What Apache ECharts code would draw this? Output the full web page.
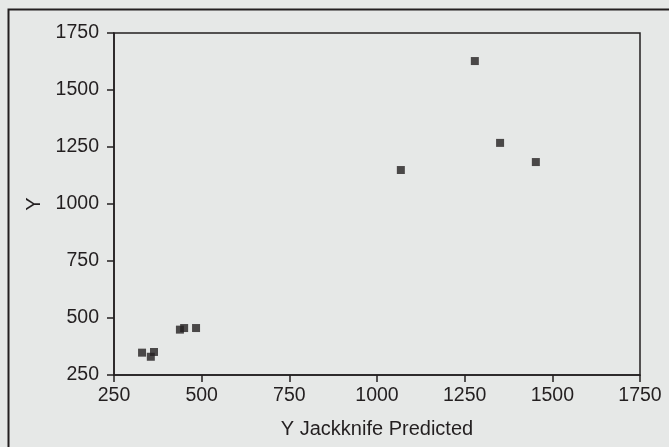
<!DOCTYPE html>
<html>
<head>
<meta charset="utf-8">
<script src="https://cdn.jsdelivr.net/npm/echarts@6/dist/echarts.min.js"></script>
<style>
html,body{margin:0;padding:0;background:#e6e8e7;}
#c{width:669px;height:447px;}
</style>
</head>
<body>
<div id="c"></div>
<script>
const xPredicted = [330, 355, 364, 438, 450, 484, 1068, 1279, 1351, 1453];
const yActual    = [348, 330, 351, 449, 456, 456, 1149, 1627, 1268, 1184];
const xTicks = [250, 500, 750, 1000, 1250, 1500, 1750];
const yTicks = [250, 500, 750, 1000, 1250, 1500, 1750];
const xTitle = 'Y Jackknife Predicted';
const yTitle = 'Y';

const ink = '#231f20';
const font = 'Liberation Sans, Arial, Helvetica, sans-serif';
const chart = echarts.init(document.getElementById('c'), null, {renderer: 'canvas'});
chart.setOption({
  backgroundColor: '#e6e8e7',
  animation: false,
  graphic: [{
    type: 'rect', left: 6, top: 7,
    shape: {width: 700, height: 480},
    style: {fill: 'none', stroke: ink, lineWidth: 2},
    silent: true
  }],
  grid: {left: 114, right: 29, top: 33, bottom: 72, show: true, borderColor: ink, borderWidth: 1.5, backgroundColor: 'transparent'},
  xAxis: {
    type: 'value', min: xTicks[0], max: xTicks[xTicks.length - 1], interval: 250,
    name: xTitle, nameLocation: 'middle', nameGap: 44,
    nameTextStyle: {color: ink, fontSize: 20, fontFamily: font},
    axisLine: {show: true, lineStyle: {color: ink, width: 1.5}},
    axisTick: {show: true, length: 7, lineStyle: {color: ink, width: 1.5}},
    axisLabel: {color: ink, fontSize: 19.5, fontFamily: font, margin: 11, formatter: v => String(v)},
    splitLine: {show: false}
  },
  yAxis: {
    type: 'value', min: yTicks[0], max: yTicks[yTicks.length - 1], interval: 250,
    name: yTitle, nameLocation: 'middle', nameGap: 69, nameRotate: 90,
    nameTextStyle: {color: ink, fontSize: 20, fontFamily: font},
    axisLine: {show: true, lineStyle: {color: ink, width: 1.5}},
    axisTick: {show: true, length: 7, lineStyle: {color: ink, width: 1.5}},
    axisLabel: {color: ink, fontSize: 19.5, fontFamily: font, margin: 15, formatter: v => String(v)},
    splitLine: {show: false}
  },
  series: [{
    type: 'scatter',
    symbol: 'rect',
    symbolSize: 8,
    itemStyle: {color: ink},
    data: xPredicted.map((x, i) => [x, yActual[i]])
  }]
});
</script>
</body>
</html>
